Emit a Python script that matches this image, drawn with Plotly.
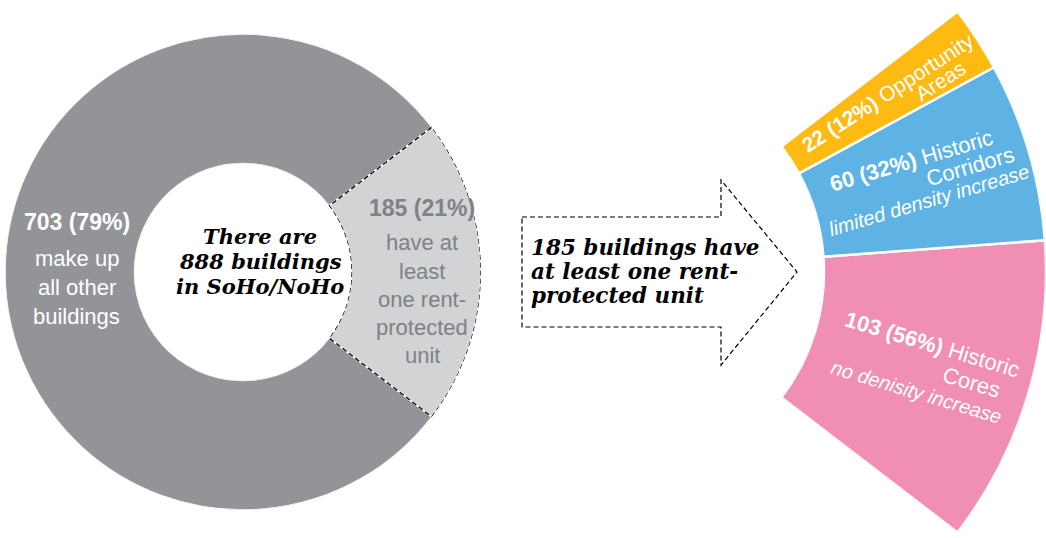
import numpy as np
import plotly.graph_objects as go

W, H = 1046, 538

# ---------------- data ----------------
left_cats = ["make up all other buildings", "have at least one rent-protected unit"]
left_vals = [703, 185]
left_pcts = ["79%", "21%"]

right_cats = ["Historic Cores", "Historic Corridors", "Opportunity Areas"]
right_vals = [103, 60, 22]
right_pcts = ["56%", "32%", "12%"]
right_notes = ["no denisity increase", "limited density increase", ""]

center_lines = ["There are", "888 buildings", "in SoHo/NoHo"]
arrow_lines = ["185 buildings have", "at least one rent-", "protected unit"]

# ---------------- styles ----------------
C_DARK = "#929497"
C_LIGHT = "#D1D3D4"
C_LABEL = "#808285"
FAN_COLORS = ["#F08EB4", "#5EB3E4", "#FCBA12"]
SANS = "Liberation Sans, Arial, sans-serif"
SERIF = "DejaVu Serif, serif"

# geometry (pixels)
cx1, cy1, R1, r1 = 243, 272, 238, 108.5
cx2, cy2, R2, r2 = 618, 272, 428, 206

total = sum(left_vals)
w_left = [v / total * 360 for v in left_vals]
theta_left = [180, 0]
span = w_left[1]
start = -span / 2

w_right = [v / left_vals[1] * span for v in right_vals]
edges = start + np.concatenate([[0], np.cumsum(w_right)])
theta_right = list((edges[:-1] + edges[1:]) / 2)

fig = go.Figure()

fig.add_trace(go.Barpolar(
    r=[1, 1], theta=theta_left, width=w_left, base=0,
    marker=dict(color=[C_DARK, C_LIGHT], line=dict(color="white", width=1.5)),
    subplot="polar", hoverinfo="skip", showlegend=False))

# dashed outline of the rent-protected slice
th_out = np.linspace(start, -start, 80)
th_in = th_out[::-1]
fig.add_trace(go.Scatterpolar(
    r=list(np.ones_like(th_out)) + list(np.zeros_like(th_in)) + [1],
    theta=list(th_out) + list(th_in) + [th_out[0]],
    mode="lines", line=dict(color="black", width=1.3, dash="5px,3px"),
    subplot="polar", hoverinfo="skip", showlegend=False))

fig.add_trace(go.Barpolar(
    r=[1, 1, 1], theta=theta_right, width=w_right, base=0,
    marker=dict(color=FAN_COLORS, line=dict(color="white", width=2.5)),
    subplot="polar2", hoverinfo="skip", showlegend=False))

sin_s = np.sin(np.deg2rad(span / 2))
polar_common = dict(
    bgcolor="rgba(0,0,0,0)",
    radialaxis=dict(visible=False, range=[0, 1]),
    angularaxis=dict(visible=False, rotation=0, direction="counterclockwise"),
    bargap=0,
)

annotations = []


def px_ann(txt, px, py, size, color, family=SANS, xanchor="center", angle=0):
    annotations.append(dict(
        text=txt, x=px / W, y=1 - py / H, xref="paper", yref="paper",
        showarrow=False, textangle=angle, xanchor=xanchor, yanchor="middle",
        font=dict(family=family, size=size, color=color)))


# left donut labels (anchor: slice centre at mid radius)
rm1 = (R1 + r1) / 2
ax_g = (cx1 + rm1 * np.cos(np.deg2rad(theta_left[0])), cy1 - rm1 * np.sin(np.deg2rad(theta_left[0])))
px_ann(f"<b>{left_vals[0]} ({left_pcts[0]})</b>", ax_g[0] + 7, ax_g[1] - 50, 23, "white")
for i, t in enumerate(["make up", "all other", "buildings"]):
    px_ann(t, ax_g[0] + 7, ax_g[1] - 14 + 29 * i, 22, "white")

ax_l = (cx1 + rm1 * np.cos(np.deg2rad(theta_left[1])), cy1 - rm1 * np.sin(np.deg2rad(theta_left[1])))
px_ann(f"<b>{left_vals[1]} ({left_pcts[1]})</b>", ax_l[0] + 6, ax_l[1] - 64, 23, C_LABEL)
for i, t in enumerate(["have at", "least", "one rent-", "protected", "unit"]):
    px_ann(t, ax_l[0] + 6, ax_l[1] - 29 + 28 * i, 22, C_LABEL)

# centre text
for i, t in enumerate(center_lines):
    px_ann(f"<b><i>{t}</i></b>", cx1 + 17, cy1 - 36 + 25 * i, 21, "black", family=SERIF)

# arrow text
for i, t in enumerate(arrow_lines):
    px_ann(f"<b><i>{t}</i></b>", 529, 247 + 24 * i, 21.5, "black", family=SERIF, xanchor="left")

# fan labels
rm2 = (R2 + r2) / 2
fan_layout = [
    [("{b} Historic", 22, 4.9, -20.9), ("Cores", 22, 53.9, 5.0), ("<i>{n}</i>", 20, 3.6, 29.9)],
    [("{b} Historic", 22, -3.9, -23.7), ("Corridors", 22, 50.3, -1.6), ("<i>{n}</i>", 20, 1.9, 19.0)],
    [("{b} Opportunity", 21, 7.0, -3.0), ("Areas", 21, 58.0, 15.5)],
]
for k in range(3):
    ang = theta_right[k]
    a = np.deg2rad(ang)
    ax = cx2 + rm2 * np.cos(a)
    ay = cy2 - rm2 * np.sin(a)
    ux, uy = np.cos(a), -np.sin(a)
    nx, ny = np.sin(a), np.cos(a)
    bold = f"<b>{right_vals[k]} ({right_pcts[k]})</b>"
    for txt, size, along, across in fan_layout[k]:
        t = txt.replace("{b}", bold).replace("{n}", right_notes[k])
        px_ann(t, ax + along * ux + across * nx, ay + along * uy + across * ny,
               size, "white", angle=-ang)

# dashed arrow (decoration)
arrow_px = [(522, 217), (721, 217), (721, 180), (797, 272), (721, 365), (721, 327), (522, 327)]
path = "M " + " L ".join(f"{x / W:.5f},{1 - y / H:.5f}" for x, y in arrow_px) + " Z"

fig.update_layout(
    width=W, height=H,
    margin=dict(l=0, r=0, t=0, b=0),
    paper_bgcolor="white", plot_bgcolor="white",
    showlegend=False,
    polar=dict(domain=dict(x=[(cx1 - R1) / W, (cx1 + R1) / W],
                           y=[1 - (cy1 + R1) / H, 1 - (cy1 - R1) / H]),
               hole=r1 / R1, **polar_common),
    polar2=dict(domain=dict(x=[cx2 / W, min(1.0, (cx2 + R2) / W)],
                            y=[1 - (cy2 + R2 * sin_s) / H, 1 - (cy2 - R2 * sin_s) / H]),
                sector=[start, -start], hole=r2 / R2, **polar_common),
    annotations=annotations,
    shapes=[dict(type="path", path=path, xref="paper", yref="paper",
                 line=dict(color="black", width=1.2, dash="5px,3px"),
                 fillcolor="rgba(0,0,0,0)")],
)

fig.write_html("out.html",
               config={"displayModeBar": False},
               post_script="document.body.style.margin='0';document.body.style.overflow='hidden';")
